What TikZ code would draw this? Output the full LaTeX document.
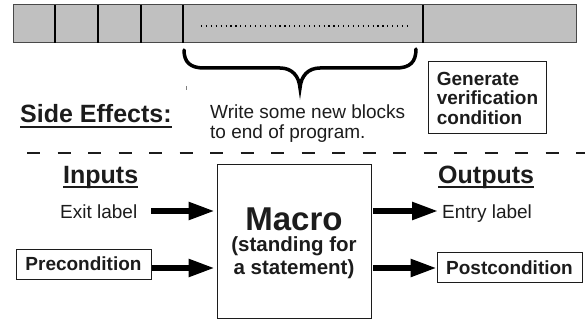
\documentclass[tikz,border=0pt]{standalone}
\usepackage{fontspec}
\setmainfont{Liberation Sans}
\usetikzlibrary{arrows.meta}
\definecolor{ink}{HTML}{1C1C1C}
\definecolor{cellgray}{HTML}{C0C0C0}
\tikzset{
  plain/.style={inner sep=0pt, text=ink, font=\fontsize{19}{20}\selectfont},
  heading/.style={inner sep=0pt, text=ink, font=\bfseries\fontsize{25}{27}\selectfont},
  boxed/.style={draw=ink, line width=1pt, text=ink, font=\bfseries\fontsize{19}{19.5}\selectfont},
  bigarrow/.style={draw=black, line width=5.5pt, -{Triangle[length=26pt,width=17pt]}},
  uline/.style={draw=ink, line width=2pt},
  divider/.style={draw=black, line width=2.2pt},
}
\begin{document}
\begin{tikzpicture}[x=1pt,y=-1pt]
\useasboundingbox (0,0) rectangle (585,320);

% program strip: a row of blocks
\draw[fill=cellgray, draw=ink!80, line width=1pt] (13,5) rectangle (576,43);
\foreach \x in {55,98,141,183,423}
  \draw[divider] (\x,5) -- (\x,43);
\draw[black, line width=1.2pt, dash pattern=on 1.2pt off 3.7pt] (201,26) -- (408,26);

% brace under the new blocks
\draw[black, line width=3.5pt, line cap=round]
  (184,50) .. controls (184,62) and (190,68) .. (204,68)
  -- (280,68) .. controls (292,68) and (299,76) .. (300,88)
  .. controls (301,76) and (308,68) .. (320,68)
  -- (396,68) .. controls (410,68) and (416,62) .. (416,49);
\draw[gray, line width=0.8pt] (186,86) -- (186,90);

% multi-line nodes: the base anchor sits on the last line
\node[plain, anchor=base west, align=left] (newblocks) at (210,138.5)
  {Write some new blocks\\to end of program.};

\node[boxed, align=left, minimum width=118.5pt, minimum height=72pt,
      inner xsep=8pt] (vcgen) at (487.5,98)
  {Generate\\verification\\condition};

% side effects heading
\node[heading, anchor=base west] (sidefx) at (20,123) {Side Effects:};
\draw[uline] ([yshift=-4.5pt]sidefx.base west) -- ([yshift=-4.5pt]sidefx.base east);

% separator
\draw[ink, line width=1.2pt, dash pattern=on 13pt off 17.5pt] (27,153) -- (585,153);

% macro box
\node[draw=ink, line width=1pt, minimum width=154pt, minimum height=153pt]
  (macro) at (294,241.5) {};
\node[inner sep=0pt, text=ink, font=\bfseries\fontsize{33}{34}\selectfont,
      anchor=base] (macrotitle) at (294,230) {Macro};
\node[inner sep=0pt, text=ink, font=\bfseries\fontsize{20.5}{22.3}\selectfont,
      anchor=base, align=center] (macronote) at (294,274)
  {(standing for\\a statement)};

% inputs
\node[heading, anchor=base west] (inputs) at (63,184) {Inputs};
\draw[uline] ([yshift=-3.5pt]inputs.base west) -- ([yshift=-3.5pt]inputs.base east);
\node[plain, anchor=base west] (exitlbl) at (60,218) {Exit label};
\node[boxed, minimum width=135pt, minimum height=30pt] (precond) at (83.5,264) {Precondition};

% outputs
\node[heading, anchor=base west] (outputs) at (438,184) {Outputs};
\draw[uline] ([yshift=-3.5pt]outputs.base west) -- ([yshift=-3.5pt]outputs.base east);
\node[plain, anchor=base west] (entrylbl) at (442,218) {Entry label};
\node[boxed, minimum width=145pt, minimum height=29.5pt] (postcond) at (509.5,267.5) {Postcondition};

% rows of the arrows
\coordinate (rowA) at (0,211);
\coordinate (rowB) at (0,268);

\draw[bigarrow] ([xshift=14pt]exitlbl.east |- rowA) -- ([xshift=-2pt]macro.west |- rowA);
\draw[bigarrow] (precond.east |- rowB) -- ([xshift=-2pt]macro.west |- rowB);
\draw[bigarrow] ([xshift=1.5pt]macro.east |- rowA) -- ([xshift=-4pt]entrylbl.west |- rowA);
\draw[bigarrow] ([xshift=1.5pt]macro.east |- rowB) -- (postcond.west |- rowB);
\end{tikzpicture}
\end{document}
